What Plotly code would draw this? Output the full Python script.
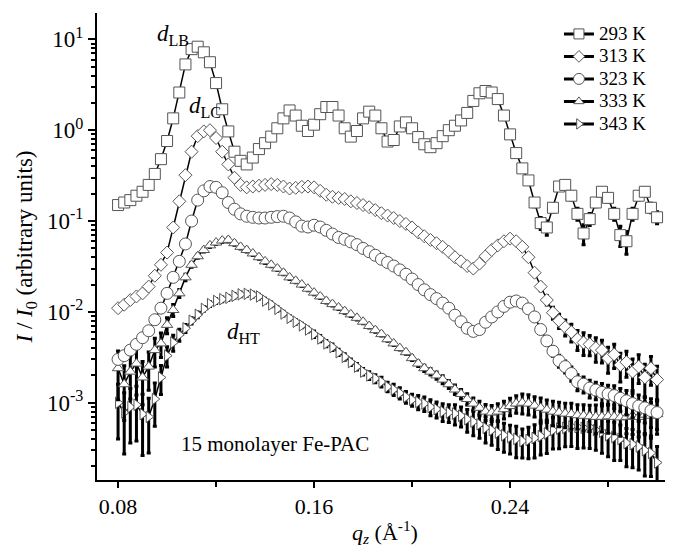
import plotly.graph_objects as go

# ---------------- data ----------------
q = [0.0800, 0.0825, 0.0850, 0.0875, 0.0900, 0.0925, 0.0950, 0.0975,
     0.1000, 0.1025, 0.1050, 0.1075, 0.1100, 0.1125, 0.1150, 0.1175,
     0.1200, 0.1225, 0.1250, 0.1275, 0.1300, 0.1325, 0.1350, 0.1375,
     0.1400, 0.1425, 0.1450, 0.1475, 0.1500, 0.1525, 0.1550, 0.1575,
     0.1600, 0.1625, 0.1650, 0.1675, 0.1700, 0.1725, 0.1750, 0.1775,
     0.1800, 0.1825, 0.1850, 0.1875, 0.1900, 0.1925, 0.1950, 0.1975,
     0.2000, 0.2025, 0.2050, 0.2075, 0.2100, 0.2125, 0.2150, 0.2175,
     0.2200, 0.2225, 0.2250, 0.2275, 0.2300, 0.2325, 0.2350, 0.2375,
     0.2400, 0.2425, 0.2450, 0.2475, 0.2500, 0.2525, 0.2550, 0.2575,
     0.2600, 0.2625, 0.2650, 0.2675, 0.2700, 0.2725, 0.2750, 0.2775,
     0.2800, 0.2825, 0.2850, 0.2875, 0.2900, 0.2925, 0.2950, 0.2975,
     0.3000]

I_293 = [0.15, 0.16, 0.17, 0.19, 0.21, 0.25, 0.33, 0.48,
         0.76, 1.35, 2.6, 5.3, 7.8, 8.3, 7.2, 5.6,
         3.3, 1.7, 0.97, 0.58, 0.46, 0.42, 0.50, 0.62,
         0.72, 0.85, 1.05, 1.35, 1.65, 1.45, 1.12, 0.98,
         1.15, 1.5, 1.8, 1.8, 1.45, 1.05, 0.85, 0.98,
         1.35, 1.6, 1.45, 1.05, 0.75, 0.78, 1.1, 1.22,
         1.05, 0.84, 0.70, 0.65, 0.72, 0.86, 1.0, 1.12,
         1.28, 1.55, 2.1, 2.55, 2.7, 2.6, 2.2, 1.45,
         0.9, 0.56, 0.38, 0.28, 0.16, 0.095, 0.085, 0.14,
         0.24, 0.25, 0.19, 0.12, 0.073, 0.105, 0.16, 0.21,
         0.18, 0.12, 0.07, 0.06, 0.12, 0.19, 0.21, 0.14,
         0.11]

I_313 = [0.011, 0.012, 0.0135, 0.0148, 0.016, 0.019, 0.025, 0.033,
         0.045, 0.085, 0.165, 0.32, 0.58, 0.86, 0.97, 1.0,
         0.82, 0.58, 0.42, 0.30, 0.25, 0.235, 0.24, 0.245,
         0.25, 0.255, 0.25, 0.24, 0.228, 0.232, 0.238, 0.24,
         0.235, 0.215, 0.195, 0.185, 0.18, 0.175, 0.165, 0.158,
         0.15, 0.142, 0.132, 0.122, 0.115, 0.108, 0.1, 0.093,
         0.085, 0.075, 0.068, 0.062, 0.057, 0.052, 0.046, 0.040,
         0.036, 0.032, 0.030, 0.034, 0.041, 0.048, 0.054, 0.060,
         0.064, 0.060, 0.052, 0.040, 0.027, 0.019, 0.0135, 0.0098,
         0.0080, 0.0068, 0.0060, 0.0050, 0.0046, 0.0044, 0.0040, 0.0038,
         0.0031, 0.0034, 0.0026, 0.0028, 0.0022, 0.0025, 0.0019, 0.0024,
         0.0018]

I_323 = [0.0030, 0.0033, 0.0038, 0.0044, 0.0052, 0.0062, 0.0082, 0.011,
         0.016, 0.024, 0.036, 0.056, 0.10, 0.17, 0.215, 0.24,
         0.235, 0.205, 0.16, 0.135, 0.12, 0.113, 0.11, 0.108,
         0.108, 0.11, 0.112, 0.113, 0.108, 0.098, 0.088, 0.086,
         0.09, 0.086, 0.079, 0.072, 0.066, 0.063, 0.059, 0.055,
         0.050, 0.046, 0.042, 0.038, 0.035, 0.032, 0.029, 0.026,
         0.023, 0.020, 0.0175, 0.0155, 0.014, 0.0125, 0.011, 0.0092,
         0.0078, 0.0066, 0.0061, 0.0064, 0.0077, 0.0088, 0.0100, 0.0115,
         0.0128, 0.0132, 0.0125, 0.0108, 0.0088, 0.0064, 0.0048, 0.0037,
         0.0029, 0.0025, 0.0021, 0.0017, 0.0016, 0.00145, 0.00138, 0.0013,
         0.00125, 0.0012, 0.00112, 0.00105, 0.00098, 0.00092, 0.00088, 0.00082,
         0.00078]

I_333 = [0.0024, 0.0016, 0.0022, 0.0027, 0.0019, 0.0025, 0.0038, 0.0045,
         0.0072, 0.0105, 0.016, 0.024, 0.033, 0.041, 0.048, 0.054,
         0.058, 0.061, 0.062, 0.057, 0.052, 0.048, 0.044, 0.040,
         0.036, 0.033, 0.030, 0.027, 0.024, 0.022, 0.020, 0.018,
         0.0163, 0.0148, 0.0132, 0.0122, 0.0112, 0.0102, 0.0094, 0.0086,
         0.0078, 0.0070, 0.0063, 0.0057, 0.0050, 0.0045, 0.0040, 0.0036,
         0.0031, 0.0027, 0.0024, 0.0022, 0.0020, 0.0018, 0.0016, 0.0014,
         0.00125, 0.0011, 0.00098, 0.00088, 0.0008, 0.00078, 0.0008, 0.00085,
         0.00092, 0.00098, 0.001, 0.00098, 0.00093, 0.00088, 0.00084, 0.0008,
         0.00078, 0.00076, 0.00075, 0.00073, 0.00072, 0.00071, 0.0007, 0.0007,
         0.00071, 0.0007, 0.00069, 0.0007, 0.00072, 0.0007, 0.00074, 0.00072,
         0.00075]

I_343 = [0.0010, 0.00078, 0.0009, 0.00095, 0.00075, 0.0007, 0.0011, 0.0019,
         0.0033, 0.0046, 0.0056, 0.0066, 0.0080, 0.0093, 0.0108, 0.0122,
         0.0132, 0.0138, 0.0143, 0.0150, 0.0156, 0.0158, 0.0155, 0.0148,
         0.0133, 0.0121, 0.0108, 0.0096, 0.0086, 0.0078, 0.0071, 0.0064,
         0.0057, 0.0051, 0.0045, 0.0041, 0.0036, 0.0032, 0.0028, 0.0025,
         0.0022, 0.0020, 0.00185, 0.0017, 0.0015, 0.0014, 0.00128, 0.00116,
         0.00108, 0.00102, 0.00098, 0.0009, 0.00085, 0.0008, 0.00078, 0.00076,
         0.00072, 0.00066, 0.00062, 0.00058, 0.00053, 0.0005, 0.00047, 0.00044,
         0.00042, 0.0004, 0.00038, 0.00039, 0.00041, 0.00043, 0.00046, 0.0005,
         0.00052, 0.00053, 0.00055, 0.00054, 0.00053, 0.00054, 0.0005, 0.00048,
         0.00044, 0.00042, 0.0004, 0.00036, 0.00035, 0.00033, 0.0003, 0.00028,
         0.00022]

# relative errors (fraction of the value)
rel_293 = [0.06, 0.06, 0.05, 0.05, 0.05, 0.04, 0.04, 0.03,
           0.03, 0.03, 0.03, 0.03, 0.03, 0.03, 0.03, 0.03,
           0.03, 0.03, 0.03, 0.03, 0.03, 0.03, 0.03, 0.03,
           0.03, 0.03, 0.03, 0.03, 0.03, 0.03, 0.03, 0.03,
           0.03, 0.03, 0.03, 0.03, 0.03, 0.03, 0.03, 0.03,
           0.03, 0.03, 0.03, 0.03, 0.03, 0.03, 0.03, 0.03,
           0.03, 0.03, 0.03, 0.03, 0.03, 0.03, 0.03, 0.03,
           0.03, 0.03, 0.03, 0.03, 0.03, 0.03, 0.03, 0.03,
           0.03, 0.04, 0.05, 0.06, 0.10, 0.15, 0.18, 0.10,
           0.08, 0.08, 0.10, 0.15, 0.25, 0.15, 0.10, 0.08,
           0.10, 0.15, 0.25, 0.28, 0.15, 0.10, 0.10, 0.12,
           0.15]

rel_313 = [0.08, 0.07, 0.07, 0.06, 0.06, 0.05, 0.05, 0.04,
           0.03, 0.03, 0.03, 0.03, 0.03, 0.03, 0.03, 0.03,
           0.03, 0.03, 0.03, 0.03, 0.03, 0.03, 0.03, 0.03,
           0.03, 0.03, 0.03, 0.03, 0.03, 0.03, 0.03, 0.03,
           0.03, 0.03, 0.03, 0.03, 0.03, 0.03, 0.03, 0.03,
           0.03, 0.03, 0.03, 0.03, 0.03, 0.03, 0.03, 0.03,
           0.03, 0.03, 0.03, 0.03, 0.03, 0.03, 0.03, 0.03,
           0.04, 0.05, 0.05, 0.05, 0.04, 0.04, 0.04, 0.04,
           0.04, 0.04, 0.05, 0.06, 0.08, 0.10, 0.12, 0.15,
           0.18, 0.20, 0.22, 0.25, 0.28, 0.25, 0.30, 0.28,
           0.32, 0.30, 0.35, 0.32, 0.38, 0.35, 0.40, 0.35,
           0.40]

rel_323 = [0.08, 0.07, 0.06, 0.06, 0.05, 0.05, 0.04, 0.04,
           0.03, 0.03, 0.03, 0.03, 0.03, 0.03, 0.03, 0.03,
           0.03, 0.03, 0.03, 0.03, 0.03, 0.03, 0.03, 0.03,
           0.03, 0.03, 0.03, 0.03, 0.03, 0.03, 0.03, 0.03,
           0.03, 0.03, 0.03, 0.03, 0.03, 0.03, 0.03, 0.03,
           0.03, 0.03, 0.03, 0.03, 0.03, 0.03, 0.03, 0.03,
           0.03, 0.03, 0.03, 0.03, 0.03, 0.03, 0.03, 0.03,
           0.03, 0.03, 0.03, 0.03, 0.03, 0.03, 0.03, 0.03,
           0.03, 0.03, 0.04, 0.05, 0.06, 0.08, 0.10, 0.12,
           0.15, 0.15, 0.18, 0.20, 0.20, 0.22, 0.22, 0.25,
           0.25, 0.28, 0.28, 0.30, 0.30, 0.32, 0.32, 0.35,
           0.35]

rel_333 = [0.55, 0.60, 0.50, 0.55, 0.50, 0.45, 0.35, 0.30,
           0.20, 0.15, 0.10, 0.08, 0.06, 0.05, 0.05, 0.05,
           0.05, 0.05, 0.05, 0.05, 0.05, 0.05, 0.05, 0.05,
           0.05, 0.05, 0.05, 0.05, 0.05, 0.05, 0.05, 0.05,
           0.05, 0.05, 0.05, 0.05, 0.05, 0.05, 0.05, 0.05,
           0.05, 0.05, 0.05, 0.05, 0.05, 0.05, 0.05, 0.05,
           0.06, 0.07, 0.08, 0.08, 0.09, 0.10, 0.10, 0.12,
           0.12, 0.14, 0.15, 0.18, 0.20, 0.20, 0.22, 0.22,
           0.22, 0.22, 0.25, 0.25, 0.25, 0.28, 0.28, 0.30,
           0.30, 0.30, 0.32, 0.30, 0.32, 0.32, 0.35, 0.32,
           0.35, 0.35, 0.38, 0.35, 0.38, 0.40, 0.38, 0.40,
           0.40]

rel_343 = [0.60, 0.65, 0.60, 0.60, 0.65, 0.60, 0.50, 0.35,
           0.25, 0.20, 0.15, 0.10, 0.08, 0.07, 0.06, 0.06,
           0.06, 0.06, 0.06, 0.06, 0.06, 0.06, 0.06, 0.06,
           0.06, 0.06, 0.06, 0.06, 0.06, 0.06, 0.06, 0.06,
           0.08, 0.08, 0.08, 0.08, 0.08, 0.08, 0.08, 0.08,
           0.08, 0.10, 0.10, 0.12, 0.12, 0.14, 0.14, 0.15,
           0.15, 0.18, 0.18, 0.20, 0.20, 0.22, 0.22, 0.25,
           0.25, 0.28, 0.30, 0.30, 0.32, 0.32, 0.35, 0.35,
           0.35, 0.38, 0.35, 0.38, 0.40, 0.38, 0.40, 0.38,
           0.40, 0.38, 0.40, 0.42, 0.40, 0.42, 0.40, 0.42,
           0.42, 0.45, 0.42, 0.45, 0.45, 0.45, 0.48, 0.45,
           0.50]

names = ["293 K", "313 K", "323 K", "333 K", "343 K"]
y_tick_vals = [1e-3, 1e-2, 1e-1, 1, 10]
y_tick_text = ["10<sup>-3</sup>", "10<sup>-2</sup>", "10<sup>-1</sup>",
               "10<sup>0</sup>", "10<sup>1</sup>"]

for arr in (I_293, I_313, I_323, I_333, I_343, rel_293, rel_313, rel_323, rel_333, rel_343):
    assert len(arr) == len(q), len(arr)

# ---------------- styles ----------------
values = [I_293, I_313, I_323, I_333, I_343]
rels = [rel_293, rel_313, rel_323, rel_333, rel_343]
symbols = ["square", "diamond", "circle", "triangle-up", "triangle-right"]
sizes = [11, 10, 12, 10, 10]
edge = "#555555"
SERIF = "Liberation Serif, Times New Roman, serif"

fig = go.Figure()

# data traces (drawn from hottest to coldest)
for idx in [4, 3, 2, 1, 0]:
    vals = values[idx]
    errs = [v * r for v, r in zip(vals, rels[idx])]
    fig.add_trace(go.Scatter(
        x=q, y=vals, mode="lines+markers", showlegend=False, name=names[idx],
        line=dict(color="black", width=1.5),
        marker=dict(symbol=symbols[idx], size=sizes[idx], color="white",
                    line=dict(color=edge, width=1)),
        error_y=dict(type="data", array=errs, visible=True, color="black",
                     thickness=3, width=2),
    ))

# legend entries (legend font kept small so rows sit close, label text enlarged)
for idx in range(5):
    fig.add_trace(go.Scatter(
        x=[None], y=[None], mode="lines+markers",
        name="<span style='font-size:19px'>" + names[idx] + "</span>",
        line=dict(color="black", width=3),
        marker=dict(symbol=symbols[idx], size=sizes[idx] - 1, color="white",
                    line=dict(color=edge, width=1)),
    ))

minor_y = [m * 10.0 ** e for e in range(-4, 2) for m in range(2, 10)]

# the page body has an 8px margin: figure is shrunk and margins offset by it
fig.update_layout(
    width=665, height=543,
    margin=dict(l=89, r=0, t=5, b=71, autoexpand=False),
    paper_bgcolor="white", plot_bgcolor="white",
    font=dict(family=SERIF, size=22, color="black"),
    legend=dict(x=0.802, y=0.99, xanchor="left", yanchor="top",
                font=dict(family=SERIF, size=15, color="black"),
                bgcolor="rgba(0,0,0,0)", tracegroupgap=0, itemwidth=30),
    xaxis=dict(
        range=[0.0714, 0.3065], tickmode="linear", tick0=0.08, dtick=0.08,
        tickformat=".2f", ticks="outside", ticklen=6, tickwidth=2,
        tickcolor="black", showline=True, linewidth=2, linecolor="black",
        showgrid=False, zeroline=False, tickfont=dict(family=SERIF, size=22),
        minor=dict(tickvals=[0.12, 0.20, 0.28], ticks="outside", ticklen=5,
                   tickwidth=2, tickcolor="black", showgrid=False),
        title=dict(text="<i>q<sub>z</sub></i> (Å<sup>-1</sup>)", standoff=6,
                   font=dict(family=SERIF, size=22)),
    ),
    yaxis=dict(
        type="log", range=[-3.85, 1.29], tickmode="array",
        tickvals=y_tick_vals, ticktext=y_tick_text,
        ticks="outside", ticklen=7, tickwidth=2, tickcolor="black",
        showline=True, linewidth=2, linecolor="black",
        showgrid=False, zeroline=False, tickfont=dict(family=SERIF, size=23),
        minor=dict(tickmode="array", tickvals=minor_y, ticks="outside",
                   ticklen=4, tickwidth=1.5, tickcolor="black", showgrid=False),
        title=dict(text="<i>I</i> / <i>I</i><sub>0</sub> (arbitrary units)",
                   standoff=8, font=dict(family=SERIF, size=23)),
    ),
)

ann_font = dict(family=SERIF, size=23, color="black")
fig.add_annotation(x=0.0951, y=1.05, xref="x", yref="y", text="<i>d</i><sub>LB</sub>",
                   showarrow=False, xanchor="left", yanchor="middle", font=ann_font)
fig.add_annotation(x=0.1082, y=0.25, xref="x", yref="y", text="<i>d</i><sub>LC</sub>",
                   showarrow=False, xanchor="left", yanchor="middle", font=ann_font)
fig.add_annotation(x=0.1237, y=-2.23, xref="x", yref="y", text="<i>d</i><sub>HT</sub>",
                   showarrow=False, xanchor="left", yanchor="middle", font=ann_font)
fig.add_annotation(x=0.1049, y=-3.45, xref="x", yref="y", text="15 monolayer Fe-PAC",
                   showarrow=False, xanchor="left", yanchor="middle",
                   font=dict(family=SERIF, size=21, color="black"))

fig.write_html("out.html")
